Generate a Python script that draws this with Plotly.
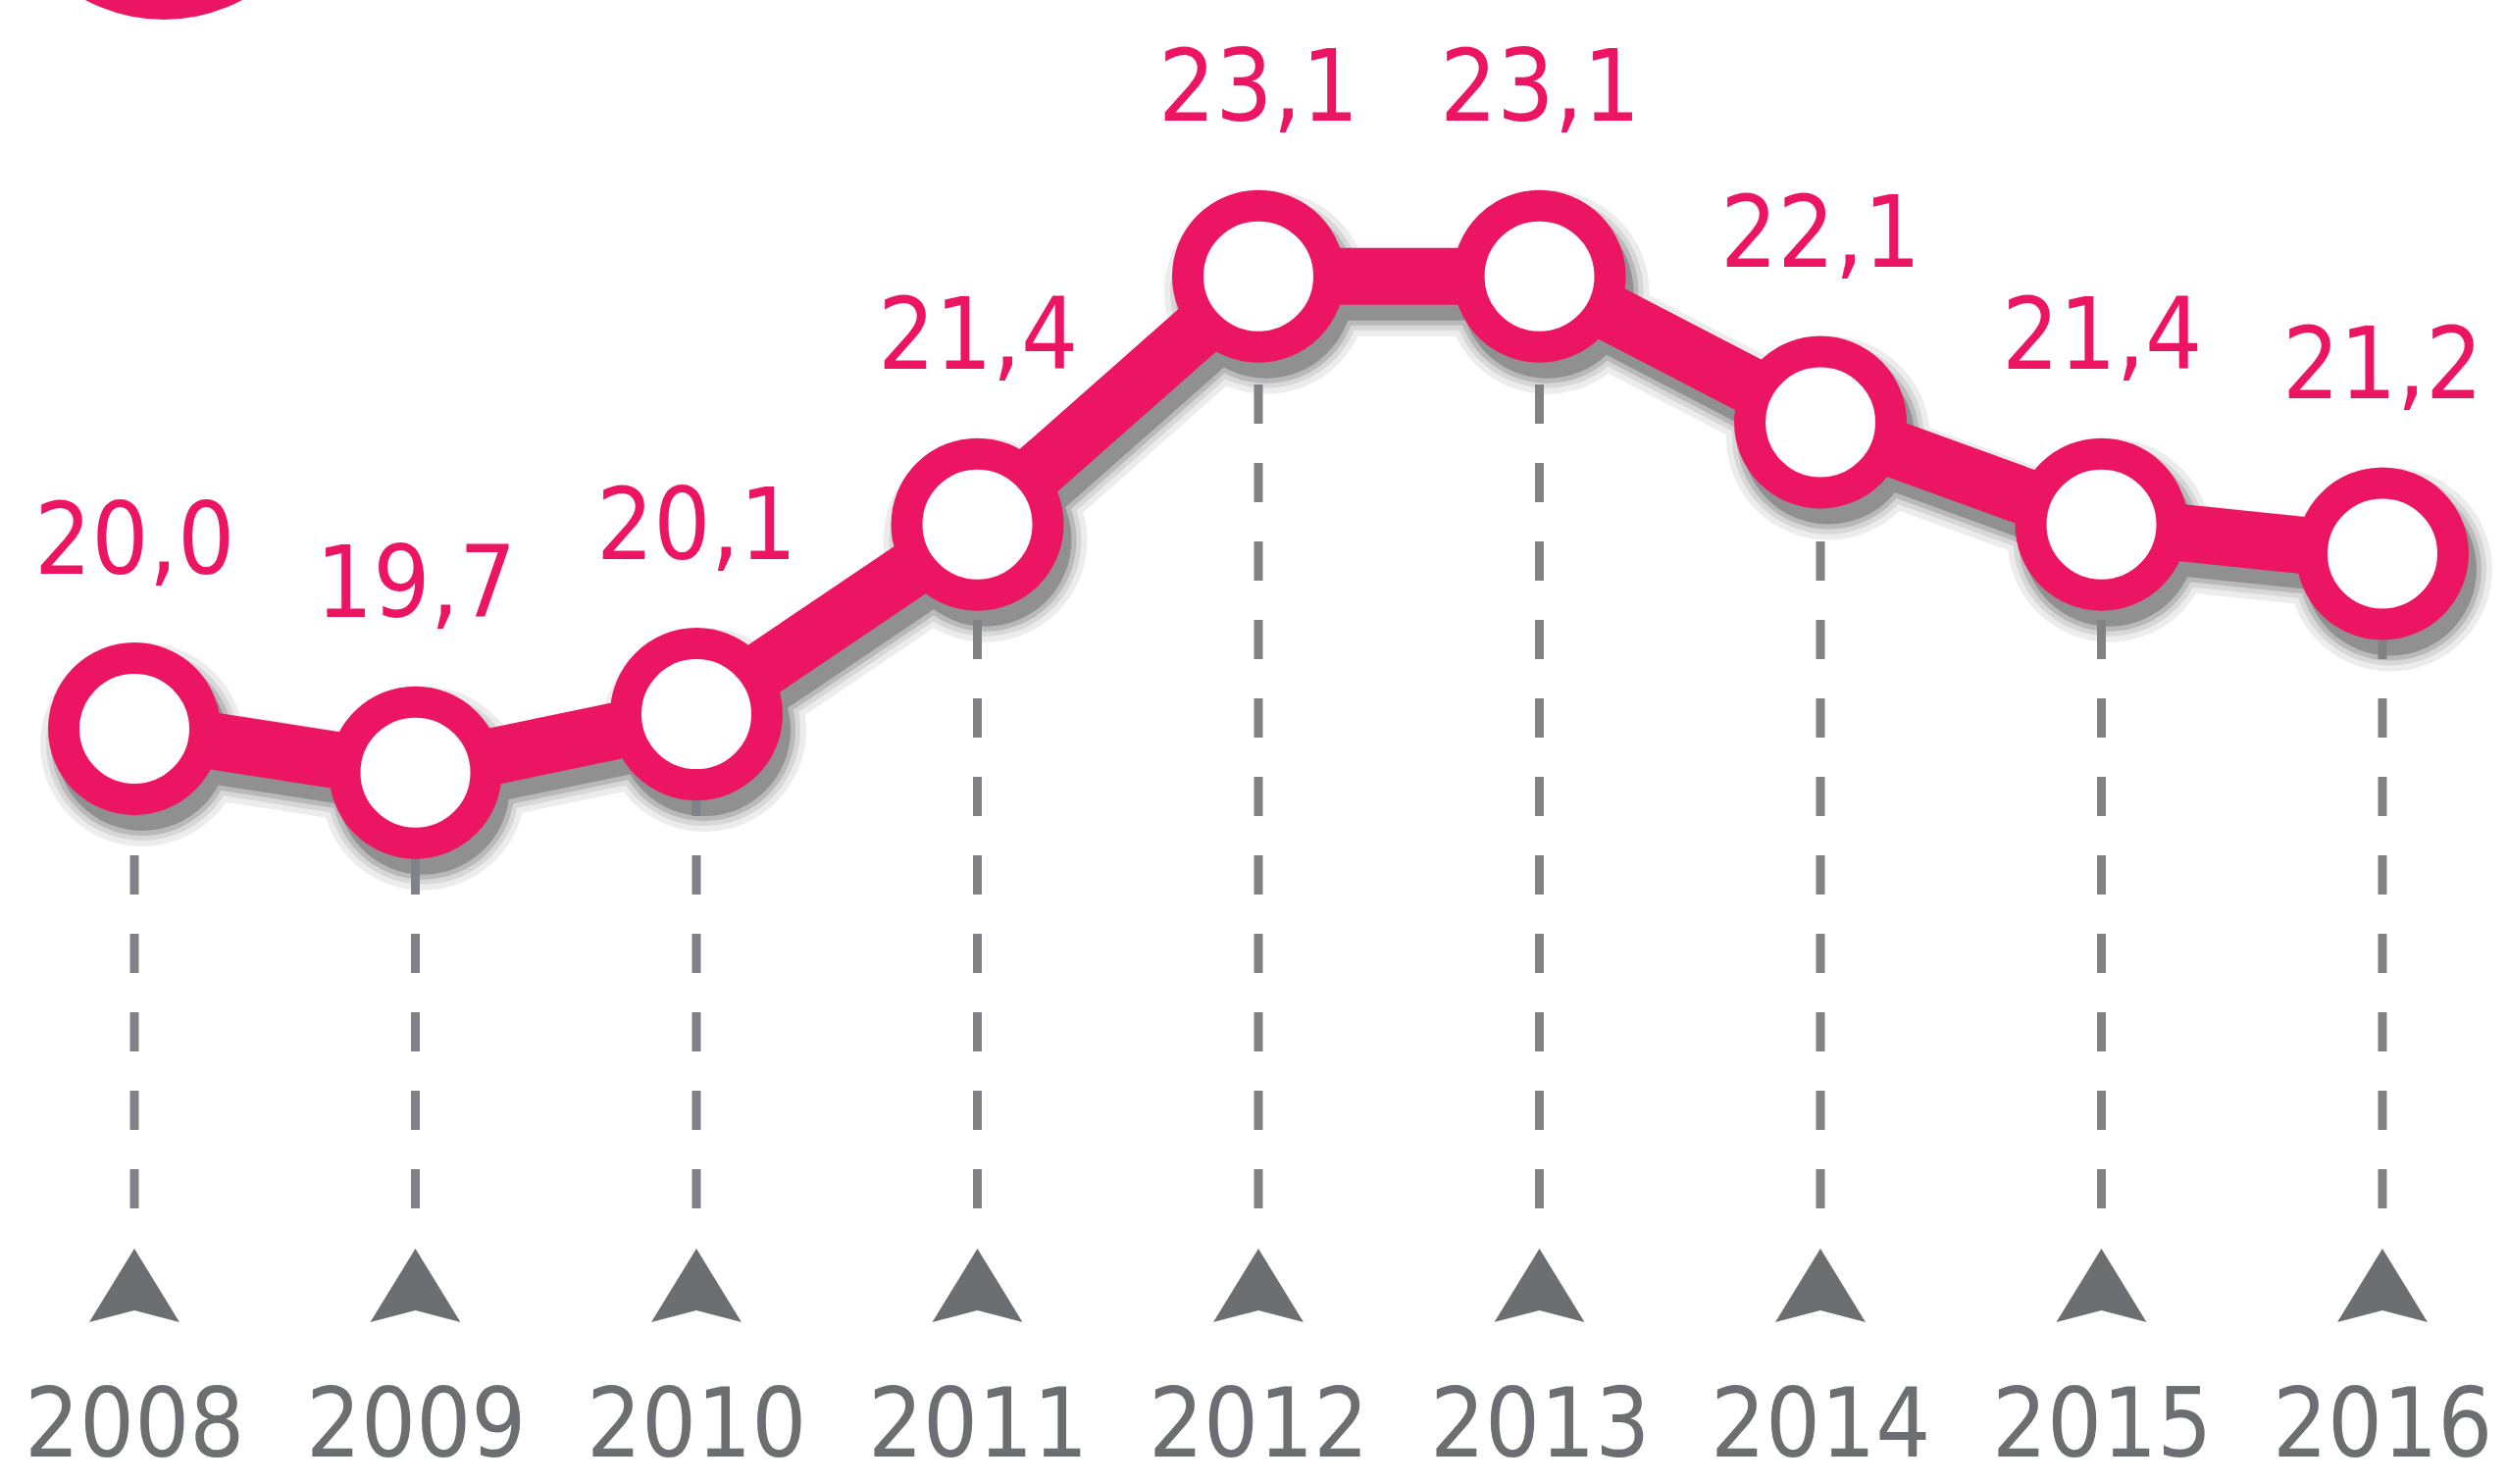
import plotly.graph_objects as go

# ---- data ----
years = [2008, 2009, 2010, 2011, 2012, 2013, 2014, 2015, 2016]
values = [20.0, 19.7, 20.1, 21.4, 23.1, 23.1, 22.1, 21.4, 21.2]
value_labels = ["20,0", "19,7", "20,1", "21,4", "23,1", "23,1", "22,1", "21,4", "21,2"]
year_labels = [str(y) for y in years]

# ---- layout constants (pixels) ----
W, H = 2556, 1513
PINK = "#EC1563"
GREY = "#6D6E71"
DASH_GREY = "#818285"
FONT = "Liberation Sans Narrow, DejaVu Sans Condensed, sans-serif"

X_FIRST_PX = 137.0      # pixel of first year
PX_PER_YEAR = 286.5
Y_REF_VAL, Y_REF_PX = 20.0, 743.0
PX_PER_UNIT = 148.8
FLOOR_PX = 1232.0       # bottom of dashed drop lines

x0 = years[0] - X_FIRST_PX / PX_PER_YEAR
x1 = x0 + W / PX_PER_YEAR
y_top = Y_REF_VAL + Y_REF_PX / PX_PER_UNIT
y_bot = Y_REF_VAL - (H - Y_REF_PX) / PX_PER_UNIT
floor_val = Y_REF_VAL - (FLOOR_PX - Y_REF_PX) / PX_PER_UNIT

SDX, SDY = 8, 16  # shadow offset in px

fig = go.Figure()

# shadows on base axes (shifted ranges)
for extra, op in [(32, 0.07), (20, 0.09), (10, 0.14), (0, 0.22)]:
    fig.add_trace(go.Scatter(
        x=years, y=values, mode="lines+markers",
        line=dict(color="black", width=58 + extra),
        marker=dict(size=176 + extra, color="black", line=dict(width=0)),
        opacity=op, xaxis="x", yaxis="y", hoverinfo="skip", showlegend=False,
    ))

# dashed drop lines
for yr, v in zip(years, values):
    fig.add_trace(go.Scatter(
        x=[yr, yr], y=[floor_val, v], mode="lines",
        line=dict(color=DASH_GREY, width=9, dash="40px,40px"),
        xaxis="x2", yaxis="y2", hoverinfo="skip", showlegend=False,
    ))

# main line + ring markers
fig.add_trace(go.Scatter(
    x=years, y=values, mode="lines+markers",
    line=dict(color=PINK, width=58),
    marker=dict(size=144, color="white", line=dict(color=PINK, width=32)),
    xaxis="x2", yaxis="y2", hoverinfo="skip", showlegend=False,
))

annotations = []
for yr, v, lab in zip(years, values, value_labels):
    annotations.append(dict(
        x=yr, y=v, xref="x2", yref="y2", text=lab, showarrow=False,
        yanchor="middle", xanchor="center", yshift=194,
        font=dict(family=FONT, size=102, color=PINK),
    ))
for yr, lab in zip(years, year_labels):
    annotations.append(dict(
        x=yr, y=1 - 1451 / H, xref="x2", yref="paper", text=lab, showarrow=False,
        yanchor="middle", xanchor="center",
        font=dict(family=FONT, size=98, color=GREY),
    ))

shapes = []
for yr in years:
    shapes.append(dict(
        type="path", xref="x2", yref="paper", xsizemode="pixel", ysizemode="pixel",
        xanchor=yr, yanchor=1 - 1348 / H,
        path="M-46,0 L0,75 L46,0 L0,12 Z",
        fillcolor=GREY, line=dict(width=0),
    ))
# cropped title icon
shapes.append(dict(
    type="circle", xref="paper", yref="paper", xsizemode="pixel", ysizemode="pixel",
    xanchor=0, yanchor=1, x0=167 - 170, x1=167 + 170, y0=-20, y1=320,
    fillcolor=PINK, line=dict(width=0),
))

ax_common = dict(showgrid=False, zeroline=False, showticklabels=False, ticks="", showline=False)
fig.update_layout(
    width=W, height=H,
    margin=dict(l=0, r=0, t=0, b=0),
    paper_bgcolor="white", plot_bgcolor="white",
    xaxis=dict(range=[x0 - SDX / PX_PER_YEAR, x1 - SDX / PX_PER_YEAR], **ax_common),
    yaxis=dict(range=[y_bot + SDY / PX_PER_UNIT, y_top + SDY / PX_PER_UNIT], **ax_common),
    xaxis2=dict(range=[x0, x1], overlaying="x", **ax_common),
    yaxis2=dict(range=[y_bot, y_top], overlaying="y", **ax_common),
    annotations=annotations, shapes=shapes, showlegend=False,
)

fig.write_html(
    "out.html",
    config={"displayModeBar": False},
    post_script="document.body.style.margin='0px';document.body.style.overflow='hidden';",
)
